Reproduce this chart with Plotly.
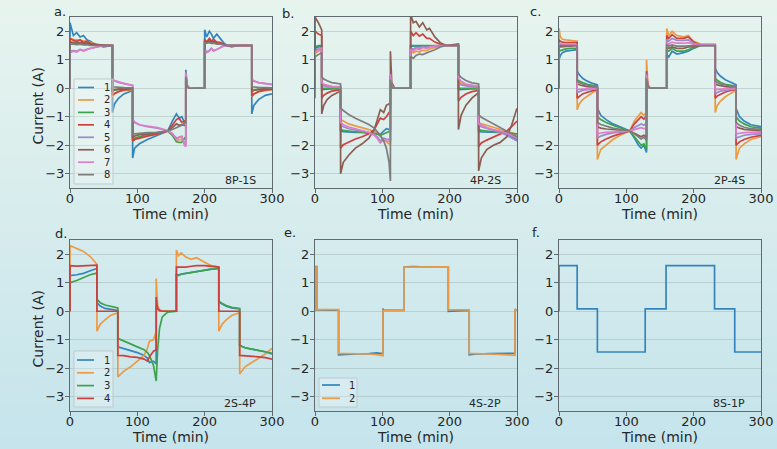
import plotly.graph_objects as go
from plotly.subplots import make_subplots

# ---------------- data ----------------
X_TICKS = [0, 100, 200, 300]
Y_TICKS = [-3, -2, -1, 0, 1, 2]
PANEL_LETTERS = ["a.", "b.", "c.", "d.", "e.", "f."]
PANEL_TAGS = ["8P-1S", "4P-2S", "2P-4S", "2S-4P", "4S-2P", "8S-1P"]
SERIES_NAMES = ["1", "2", "3", "4", "5", "6", "7", "8"]

# panel a (8P-1S): segment time lists
T_A = [[0, 0, 5, 10, 15, 20, 25, 30, 40, 50, 63],
       [63, 66, 72, 80, 93],
       [93, 96, 103, 115, 130, 145, 152, 158, 162, 166, 170, 172],
       [172, 174, 177, 185, 200],
       [200, 203, 207, 210, 213, 218, 223, 228, 233, 240, 250, 270],
       [270, 273, 280, 290, 300]]
A1 = [[0, 2.3, 1.85, 1.95, 1.8, 1.85, 1.7, 1.65, 1.5, 1.45, 1.5],
      [-0.85, -0.55, -0.35, -0.2, -0.08],
      [-2.45, -2.1, -1.95, -1.8, -1.65, -1.5, -1.15, -0.9, -1.05, -1.0, -1.2, -1.25],
      [0.65, 0.1, 0.02, 0, 0],
      [2.05, 1.8, 2.0, 1.9, 1.75, 1.9, 1.75, 1.6, 1.5, 1.45, 1.5, 1.5],
      [-0.9, -0.6, -0.4, -0.25, -0.2]]
A2 = [[0, 1.75, 1.72, 1.7, 1.68, 1.65, 1.65, 1.6, 1.55, 1.5, 1.5],
      [-0.3, -0.2, -0.12, -0.08, -0.05],
      [-1.85, -1.8, -1.72, -1.65, -1.6, -1.5, -1.6, -1.85, -1.8, -1.8, -1.9, -1.9],
      [0.35, 0.05, 0, 0, 0],
      [1.7, 1.65, 1.72, 1.65, 1.68, 1.62, 1.6, 1.55, 1.5, 1.5, 1.5, 1.5],
      [-0.3, -0.2, -0.12, -0.08, -0.05]]
A3 = [[0, 1.6, 1.6, 1.62, 1.6, 1.58, 1.57, 1.55, 1.52, 1.5, 1.5],
      [-0.1, -0.07, -0.04, -0.02, 0.0],
      [-1.8, -1.75, -1.7, -1.62, -1.57, -1.5, -1.65, -1.88, -1.9, -1.9, -1.75, -1.8],
      [0.3, 0.05, 0, 0, 0],
      [1.62, 1.6, 1.63, 1.6, 1.62, 1.58, 1.57, 1.55, 1.5, 1.5, 1.5, 1.5],
      [-0.1, -0.07, -0.04, -0.02, 0.0]]
A4 = [[0, 1.75, 1.68, 1.65, 1.7, 1.6, 1.65, 1.58, 1.52, 1.5, 1.5],
      [-0.25, -0.18, -0.12, -0.06, -0.03],
      [-1.85, -1.8, -1.75, -1.68, -1.6, -1.5, -1.3, -1.1, -1.05, -1.2, -1.15, -1.2],
      [0.45, 0.05, 0, 0, 0],
      [1.72, 1.6, 1.75, 1.65, 1.72, 1.62, 1.6, 1.55, 1.5, 1.5, 1.5, 1.5],
      [-0.28, -0.2, -0.12, -0.06, -0.04]]
A5 = [[0, 1.3, 1.32, 1.3, 1.36, 1.32, 1.37, 1.4, 1.46, 1.5, 1.5],
      [0.3, 0.26, 0.2, 0.16, 0.1],
      [-1.12, -1.2, -1.28, -1.35, -1.4, -1.5, -1.6, -1.75, -1.72, -1.7, -1.95, -2.0],
      [0.5, 0.08, 0.02, 0, 0],
      [1.35, 1.28, 1.32, 1.4, 1.32, 1.36, 1.42, 1.48, 1.5, 1.5, 1.5, 1.5],
      [0.3, 0.25, 0.2, 0.16, 0.13]]
A6 = [[0, 1.62, 1.6, 1.58, 1.6, 1.57, 1.58, 1.55, 1.52, 1.5, 1.5],
      [-0.08, -0.05, -0.03, -0.02, 0.0],
      [-1.7, -1.68, -1.63, -1.6, -1.55, -1.5, -1.38, -1.25, -1.3, -1.28, -1.3, -1.3],
      [0.4, 0.05, 0, 0, 0],
      [1.65, 1.6, 1.66, 1.6, 1.64, 1.58, 1.56, 1.52, 1.5, 1.5, 1.5, 1.5],
      [-0.1, -0.07, -0.04, -0.02, 0.0]]
A7 = [[0, 1.25, 1.3, 1.27, 1.35, 1.3, 1.35, 1.4, 1.45, 1.5, 1.5],
      [0.32, 0.27, 0.22, 0.17, 0.1],
      [-1.1, -1.18, -1.28, -1.33, -1.38, -1.48, -1.58, -1.8, -1.72, -1.68, -2.0, -2.05],
      [0.55, 0.08, 0.02, 0, 0],
      [1.35, 1.25, 1.3, 1.4, 1.3, 1.35, 1.42, 1.48, 1.5, 1.5, 1.5, 1.5],
      [0.32, 0.26, 0.2, 0.16, 0.14]]
A8 = [[0, 1.55, 1.55, 1.53, 1.55, 1.52, 1.53, 1.5, 1.5, 1.5, 1.5],
      [0.05, 0.04, 0.03, 0.02, 0.01],
      [-1.62, -1.6, -1.58, -1.56, -1.55, -1.5, -1.45, -1.38, -1.32, -1.3, -1.22, -1.2],
      [0.4, 0.05, 0, 0, 0],
      [1.6, 1.58, 1.6, 1.57, 1.58, 1.55, 1.55, 1.52, 1.5, 1.5, 1.5, 1.5],
      [0.05, 0.04, 0.03, 0.02, 0.01]]

# panel b (4P-2S)
T_B = [[0, 0, 5, 10],
       [10, 13, 18, 25, 38],
       [38, 42, 50, 60, 70, 80, 88, 92, 97, 102, 106, 110, 112],
       [112, 114, 118, 125, 142],
       [142, 146, 150, 155, 160, 166, 170, 178, 186, 195, 213],
       [213, 217, 224, 233, 243],
       [243, 247, 255, 265, 275, 285, 292, 300]]
B1 = [[0, 1.4, 1.45, 1.48],
      [-0.05, -0.04, -0.03, -0.02, -0.02],
      [-1.5, -1.52, -1.54, -1.55, -1.55, -1.56, -1.58, -1.6, -1.62, -1.5, -1.42, -1.45, -1.4],
      [0.2, 0.03, 0, 0, 0],
      [1.48, 1.48, 1.5, 1.5, 1.5, 1.5, 1.5, 1.5, 1.5, 1.5, 1.5],
      [-0.05, -0.04, -0.03, -0.02, -0.02],
      [-1.52, -1.53, -1.54, -1.55, -1.55, -1.6, -1.7, -1.8]]
B2 = [[0, 1.22, 1.3, 1.35],
      [0.15, 0.12, 0.1, 0.07, 0.05],
      [-1.1, -1.15, -1.25, -1.32, -1.38, -1.45, -1.52, -1.55, -1.7, -1.8, -1.9, -1.95, -1.95],
      [0.3, 0.05, 0, 0, 0],
      [1.28, 1.24, 1.3, 1.27, 1.33, 1.32, 1.38, 1.43, 1.48, 1.5, 1.5],
      [0.25, 0.18, 0.12, 0.08, 0.05],
      [-1.2, -1.25, -1.3, -1.37, -1.42, -1.5, -1.55, -1.62]]
B3 = [[0, 1.45, 1.5, 1.5],
      [0.0, 0.0, 0.0, 0.0, 0.0],
      [-1.45, -1.48, -1.5, -1.52, -1.53, -1.55, -1.58, -1.6, -1.65, -1.6, -1.55, -1.5, -1.5],
      [0.15, 0.02, 0, 0, 0],
      [1.5, 1.5, 1.5, 1.5, 1.5, 1.5, 1.5, 1.5, 1.5, 1.5, 1.5],
      [0.0, 0.0, 0.0, 0.0, 0.0],
      [-1.45, -1.48, -1.5, -1.52, -1.53, -1.55, -1.58, -1.6]]
B4 = [[0, 2.0, 1.9, 1.85],
      [-0.35, -0.25, -0.17, -0.1, -0.05],
      [-2.1, -1.98, -1.88, -1.78, -1.7, -1.6, -1.45, -1.25, -1.05, -1.1, -1.0, -0.85, -0.8],
      [0.45, 0.05, 0, 0, 0],
      [2.0, 1.85, 1.95, 1.83, 1.9, 1.75, 1.75, 1.62, 1.55, 1.5, 1.5],
      [-0.45, -0.32, -0.2, -0.12, -0.08],
      [-2.05, -1.92, -1.82, -1.72, -1.62, -1.5, -1.35, -1.15]]
B5 = [[0, 1.33, 1.38, 1.42],
      [0.1, 0.08, 0.06, 0.04, 0.03],
      [-1.3, -1.35, -1.42, -1.47, -1.5, -1.55, -1.62, -1.7, -1.85, -1.75, -1.78, -1.8, -1.8],
      [0.4, 0.05, 0, 0, 0],
      [1.42, 1.36, 1.44, 1.4, 1.45, 1.43, 1.46, 1.48, 1.5, 1.5, 1.5],
      [0.18, 0.12, 0.08, 0.05, 0.03],
      [-1.3, -1.35, -1.42, -1.48, -1.55, -1.65, -1.75, -1.85]]
B6 = [[0, 2.5, 2.3, 2.05],
      [-0.9, -0.6, -0.4, -0.25, -0.1],
      [-3.0, -2.6, -2.35, -2.1, -1.95, -1.75, -1.45, -1.15, -0.75, -0.85, -0.6, -0.55, -0.55],
      [1.3, 0.2, 0.02, 0, 0],
      [2.6, 2.3, 2.35, 2.15, 2.3, 2.05, 2.1, 1.8, 1.6, 1.5, 1.55],
      [-1.45, -0.95, -0.6, -0.35, -0.15],
      [-2.9, -2.45, -2.15, -2.0, -1.9, -1.7, -1.3, -0.7]]
B7 = [[0, 1.28, 1.35, 1.4],
      [0.2, 0.14, 0.1, 0.06, 0.04],
      [-1.2, -1.28, -1.36, -1.42, -1.48, -1.55, -1.65, -1.75, -1.92, -1.8, -1.85, -1.85, -1.85],
      [0.5, 0.08, 0.01, 0, 0],
      [1.35, 1.3, 1.4, 1.35, 1.43, 1.4, 1.45, 1.48, 1.5, 1.5, 1.5],
      [0.35, 0.25, 0.15, 0.1, 0.06],
      [-1.25, -1.3, -1.38, -1.45, -1.5, -1.58, -1.65, -1.75]]
B8 = [[-0.35, 1.1, 1.18, 1.25],
      [0.4, 0.32, 0.26, 0.2, 0.15],
      [-0.7, -0.78, -0.92, -1.05, -1.15, -1.27, -1.4, -1.5, -1.65, -1.85, -2.1, -2.6, -3.25],
      [0.3, 0.05, 0, 0, 0],
      [1.12, 1.05, 1.15, 1.2, 1.18, 1.25, 1.28, 1.35, 1.45, 1.5, 1.5],
      [0.5, 0.38, 0.27, 0.19, 0.15],
      [-0.92, -1.02, -1.12, -1.25, -1.37, -1.5, -1.6, -1.7]]

# panel c (2P-4S)
T_C = [[0, 0, 2, 5, 10, 18, 27],
       [27, 30, 35, 42, 50, 57],
       [57, 62, 70, 80, 95, 105, 112, 118, 122, 126, 130],
       [130, 132, 135, 145, 160],
       [160, 163, 168, 175, 185, 192, 200, 210, 232],
       [232, 235, 240, 247, 255, 263],
       [263, 268, 275, 285, 300]]
C1 = [[0, 1.0, 1.15, 1.25, 1.3, 1.33, 1.35],
      [0.6, 0.48, 0.35, 0.25, 0.17, 0.12],
      [-0.7, -0.95, -1.1, -1.25, -1.4, -1.5, -1.75, -2.0, -2.1, -2.0, -2.25],
      [0.4, 0.05, 0, 0, 0],
      [1.2, 1.1, 1.3, 1.2, 1.25, 1.3, 1.4, 1.5, 1.5],
      [0.7, 0.55, 0.42, 0.3, 0.2, 0.12],
      [-0.7, -1.0, -1.15, -1.28, -1.35]]
C2 = [[0, 2.1, 1.8, 1.72, 1.7, 1.68, 1.65],
      [-0.75, -0.55, -0.4, -0.28, -0.15, -0.07],
      [-2.5, -2.15, -2.0, -1.8, -1.6, -1.5, -1.15, -0.95, -0.85, -0.95, -0.85],
      [1.0, 0.15, 0.02, 0, 0],
      [2.1, 1.85, 2.0, 1.85, 1.8, 1.85, 1.65, 1.55, 1.55],
      [-0.85, -0.6, -0.45, -0.3, -0.18, -0.08],
      [-2.5, -2.1, -1.95, -1.8, -1.7]]
C3 = [[0, 1.3, 1.32, 1.35, 1.38, 1.4, 1.4],
      [0.3, 0.25, 0.2, 0.14, 0.1, 0.07],
      [-1.0, -1.1, -1.2, -1.3, -1.42, -1.5, -1.7, -1.9, -2.0, -1.95, -2.15],
      [0.3, 0.04, 0, 0, 0],
      [1.35, 1.3, 1.4, 1.3, 1.3, 1.35, 1.42, 1.5, 1.5],
      [0.35, 0.28, 0.2, 0.14, 0.1, 0.07],
      [-1.0, -1.15, -1.25, -1.35, -1.4]]
C4 = [[0, 1.7, 1.65, 1.62, 1.6, 1.6, 1.6],
      [-0.35, -0.28, -0.2, -0.14, -0.08, -0.04],
      [-2.0, -1.88, -1.78, -1.68, -1.57, -1.5, -1.25, -1.08, -1.0, -1.08, -0.98],
      [0.6, 0.08, 0.01, 0, 0],
      [1.85, 1.75, 1.88, 1.75, 1.75, 1.8, 1.62, 1.52, 1.52],
      [-0.35, -0.27, -0.2, -0.13, -0.08, -0.04],
      [-2.0, -1.88, -1.8, -1.72, -1.65]]
C5 = [[0, 1.55, 1.55, 1.52, 1.52, 1.5, 1.5],
      [-0.15, -0.12, -0.08, -0.05, -0.03, -0.01],
      [-1.75, -1.68, -1.62, -1.57, -1.53, -1.5, -1.38, -1.3, -1.25, -1.3, -1.22],
      [0.5, 0.06, 0, 0, 0],
      [1.7, 1.65, 1.75, 1.68, 1.68, 1.7, 1.58, 1.52, 1.52],
      [-0.2, -0.15, -0.1, -0.07, -0.04, -0.02],
      [-1.75, -1.7, -1.65, -1.62, -1.6]]
C6 = [[0, 1.45, 1.45, 1.45, 1.47, 1.48, 1.5],
      [0.15, 0.12, 0.09, 0.06, 0.04, 0.03],
      [-1.35, -1.4, -1.43, -1.45, -1.48, -1.5, -1.58, -1.65, -1.7, -1.65, -1.72],
      [0.35, 0.05, 0, 0, 0],
      [1.45, 1.4, 1.45, 1.4, 1.4, 1.45, 1.45, 1.5, 1.5],
      [0.15, 0.12, 0.09, 0.06, 0.04, 0.03],
      [-1.35, -1.4, -1.44, -1.47, -1.5]]
C7 = [[0, 1.58, 1.56, 1.54, 1.53, 1.52, 1.52],
      [-0.05, -0.04, -0.03, -0.02, -0.01, 0.0],
      [-1.6, -1.57, -1.55, -1.53, -1.51, -1.5, -1.45, -1.4, -1.38, -1.42, -1.38],
      [0.45, 0.05, 0, 0, 0],
      [1.62, 1.55, 1.62, 1.58, 1.58, 1.6, 1.55, 1.52, 1.52],
      [-0.05, -0.04, -0.03, -0.02, -0.01, 0.0],
      [-1.6, -1.58, -1.56, -1.55, -1.55]]
C8 = [[0, 1.5, 1.5, 1.5, 1.5, 1.5, 1.5],
      [0.25, 0.2, 0.15, 0.1, 0.07, 0.05],
      [-1.2, -1.27, -1.33, -1.4, -1.46, -1.5, -1.6, -1.72, -1.78, -1.72, -1.82],
      [0.35, 0.05, 0, 0, 0],
      [1.52, 1.48, 1.52, 1.48, 1.48, 1.5, 1.5, 1.5, 1.5],
      [0.25, 0.2, 0.15, 0.1, 0.07, 0.05],
      [-1.2, -1.3, -1.37, -1.42, -1.45]]

# panel d (2S-4P)
T_D = [[0, 0, 10, 20, 30, 38, 40],
       [40, 45, 52, 60, 71],
       [71, 80, 90, 100, 110, 115, 118, 124, 128],
       [128, 130, 133, 137, 145, 158],
       [158, 161, 165, 172, 180, 188, 200, 210, 221],
       [221, 226, 232, 240, 252],
       [252, 260, 270, 280, 290, 300]]
D1 = [[0, 1.25, 1.28, 1.33, 1.42, 1.47, 1.5],
      [0.3, 0.18, 0.1, 0.06, 0.03],
      [-1.25, -1.3, -1.38, -1.45, -1.55, -1.65, -1.8, -1.75, -1.85],
      [0.2, 0.08, 0.03, 0.01, 0, 0],
      [1.3, 1.27, 1.3, 1.33, 1.35, 1.38, 1.43, 1.48, 1.5],
      [0.33, 0.25, 0.18, 0.12, 0.08],
      [-1.2, -1.28, -1.33, -1.37, -1.42, -1.5]]
D2 = [[0, 2.3, 2.2, 2.1, 1.92, 1.72, 1.65],
      [-0.7, -0.45, -0.3, -0.15, -0.05],
      [-2.3, -2.1, -1.95, -1.75, -1.55, -1.3, -1.05, -1.0, -0.7],
      [1.15, 0.2, 0.05, 0.01, 0, 0],
      [2.15, 1.95, 2.05, 1.9, 1.82, 1.88, 1.72, 1.6, 1.55],
      [-0.7, -0.45, -0.3, -0.15, -0.05],
      [-2.2, -1.95, -1.8, -1.65, -1.5, -1.3]]
D3 = [[0, 1.0, 1.08, 1.18, 1.28, 1.33, 1.35],
      [0.42, 0.3, 0.22, 0.17, 0.12],
      [-0.95, -1.05, -1.15, -1.25, -1.35, -1.45, -1.55, -1.9, -2.45],
      [-2.45, -1.4, -0.6, -0.2, -0.03, 0],
      [1.3, 1.25, 1.3, 1.33, 1.35, 1.38, 1.43, 1.48, 1.5],
      [0.35, 0.27, 0.2, 0.14, 0.1],
      [-1.2, -1.28, -1.33, -1.37, -1.42, -1.48]]
D4 = [[0, 1.6, 1.58, 1.6, 1.62, 1.62, 1.62],
      [0.0, 0.0, 0.0, 0.0, 0.0],
      [-1.55, -1.56, -1.6, -1.62, -1.68, -1.75, -1.6, -1.4, -1.35],
      [0.5, 0.1, 0.02, 0, 0, 0],
      [1.55, 1.55, 1.57, 1.55, 1.58, 1.6, 1.6, 1.57, 1.55],
      [0.0, 0.0, 0.0, 0.0, 0.0],
      [-1.55, -1.56, -1.57, -1.6, -1.63, -1.68]]

# panel e (4S-2P)
T_E = [[0, 0, 3],
       [3, 20, 35],
       [35, 40, 60, 80, 92, 97, 101],
       [101, 102, 115, 132],
       [132, 145, 170, 198],
       [198, 210, 229],
       [229, 240, 260, 280, 290, 297],
       [297, 298, 300]]
E1 = [[0, 1.57, 1.57],
      [0.05, 0.04, 0.04],
      [-1.53, -1.52, -1.5, -1.49, -1.46, -1.48, -1.47],
      [0.1, 0.03, 0.03, 0.03],
      [1.55, 1.57, 1.55, 1.55],
      [0.0, 0.02, 0.03],
      [-1.53, -1.5, -1.49, -1.47, -1.46, -1.47],
      [0.08, 0.05, 0.05]]
E2 = [[0, 1.55, 1.55],
      [0.06, 0.06, 0.06],
      [-1.48, -1.48, -1.48, -1.5, -1.52, -1.55, -1.56],
      [0.03, 0.03, 0.03, 0.03],
      [1.55, 1.55, 1.55, 1.56],
      [0.06, 0.05, 0.05],
      [-1.48, -1.48, -1.5, -1.52, -1.55, -1.55],
      [0.05, 0.05, 0.05]]

# panel f (8S-1P)
T_F = [[0, 0, 27], [27, 57], [57, 128], [128, 159], [159, 231], [231, 261], [261, 300]]
F1 = [[0, 1.6, 1.6], [0.08, 0.08], [-1.43, -1.43], [0.08, 0.08], [1.6, 1.6], [0.08, 0.08], [-1.43, -1.43]]

# ---------------- styling ----------------
COLORS = ["#3585bd", "#eb9a45", "#3da34a", "#cc4040", "#9c88cc", "#8c5d52", "#de7cc8", "#7d7d7d"]
FONT = "DejaVu Sans"
W, H = 777, 449


def flat(parts):
    out = []
    for p in parts:
        out.extend(p)
    return out


PANELS = [
    (T_A, [A1, A2, A3, A4, A5, A6, A7, A8]),
    (T_B, [B1, B2, B3, B4, B5, B6, B7, B8]),
    (T_C, [C1, C2, C3, C4, C5, C6, C7, C8]),
    (T_D, [D1, D2, D3, D4]),
    (T_E, [E1, E2]),
    (T_F, [F1]),
]

# plot-area pixel boxes (left, right, top, bottom)
BOXES = [(70, 272, 17, 188), (315, 517, 17, 188), (559, 761, 17, 188),
         (70, 272, 240, 411), (315, 517, 240, 411), (559, 761, 240, 411)]

fig = make_subplots(rows=2, cols=3)

for i, (tparts, series) in enumerate(PANELS):
    r, c = i // 3 + 1, i % 3 + 1
    t = flat(tparts)
    for k, s in enumerate(series):
        y = flat(s)
        fig.add_trace(go.Scatter(x=t, y=y, mode="lines", name=SERIES_NAMES[k],
                                 line=dict(color=COLORS[k], width=1.7),
                                 showlegend=False, hoverinfo="skip"), row=r, col=c)

axis_common = dict(showline=True, mirror=True, linecolor="#5f6b6e", linewidth=1.2,
                   ticks="outside", ticklen=4, tickcolor="#5f6b6e",
                   tickfont=dict(family=FONT, size=13, color="#262626"),
                   zeroline=False, automargin=False)

for i, (l, rgt, tp, bt) in enumerate(BOXES):
    idx = "" if i == 0 else str(i + 1)
    xa = "xaxis" + idx
    ya = "yaxis" + idx
    fig.layout[xa].update(domain=[l / W, rgt / W], range=[0, 300], tickvals=X_TICKS,
                          showgrid=False, ticklabelstandoff=-6,
                          title=dict(text="Time (min)", font=dict(family=FONT, size=14, color="#262626"),
                                     standoff=2),
                          **axis_common)
    fig.layout[ya].update(domain=[1 - bt / H, 1 - tp / H], range=[-3.5, 2.5], tickvals=Y_TICKS,
                          ticktext=[("\u2212" + str(-v)) if v < 0 else str(v) for v in Y_TICKS],
                          showgrid=True, gridcolor="rgba(160,175,178,0.45)", gridwidth=1,
                          ticklabelstandoff=-2,
                          **axis_common)

shapes = []
annotations = []

# background vertical gradient
NB = 60
top_c = (231, 244, 238)
bot_c = (197, 228, 236)
for b in range(NB):
    f = b / (NB - 1)
    col = tuple(int(round(top_c[j] + (bot_c[j] - top_c[j]) * f)) for j in range(3))
    shapes.append(dict(type="rect", xref="paper", yref="paper", x0=0, x1=1,
                       y0=1 - (b + 1) / NB - 0.002, y1=1 - b / NB,
                       fillcolor="rgb(%d,%d,%d)" % col, line=dict(width=0), layer="below"))


def px(x, y):
    return x / W, 1 - y / H


# y-axis titles (left column only)
for (l, rgt, tp, bt) in (BOXES[0], BOXES[3]):
    xx, yy = px(37, (tp + bt) / 2 + 3)
    annotations.append(dict(x=xx, y=yy, xref="paper", yref="paper", text="Current (A)",
                            textangle=-90, showarrow=False,
                            font=dict(family=FONT, size=14, color="#262626"),
                            xanchor="center", yanchor="middle"))

# panel letters
LETTER_POS = [(60, 12), (288, 13), (535, 11), (61, 233), (290, 232), (536, 232)]
for (x, y), txt in zip(LETTER_POS, PANEL_LETTERS):
    xx, yy = px(x, y)
    annotations.append(dict(x=xx, y=yy, xref="paper", yref="paper", text=txt, showarrow=False,
                            font=dict(family=FONT, size=13, color="#262626"),
                            xanchor="center", yanchor="middle"))

# panel tags (bottom-right inside)
for i, (l, rgt, tp, bt) in enumerate(BOXES):
    xx, yy = px(rgt - 14, bt - 8)
    annotations.append(dict(x=xx, y=yy, xref="paper", yref="paper", text=PANEL_TAGS[i],
                            showarrow=False, font=dict(family=FONT, size=11, color="#262626"),
                            xanchor="right", yanchor="middle"))


# manual legends
def legend(box, n, first_y, step, lx0, lx1, tx):
    x0, y0, x1, y1 = box
    a, b = px(x0, y0)
    c, d = px(x1, y1)
    shapes.append(dict(type="rect", xref="paper", yref="paper", x0=a, x1=c, y0=d, y1=b,
                       fillcolor="rgba(255,255,255,0.25)", line=dict(color="rgba(190,200,200,0.9)", width=1)))
    for k in range(n):
        yy = first_y + k * step
        p0 = px(lx0, yy)
        p1 = px(lx1, yy)
        shapes.append(dict(type="line", xref="paper", yref="paper", x0=p0[0], x1=p1[0], y0=p0[1], y1=p1[1],
                           line=dict(color=COLORS[k], width=1.7)))
        q = px(tx, yy)
        annotations.append(dict(x=q[0], y=q[1], xref="paper", yref="paper", text=SERIES_NAMES[k],
                                showarrow=False, font=dict(family=FONT, size=10, color="#262626"),
                                xanchor="left", yanchor="middle"))


legend((74, 79, 113, 184), 8, 87.5, 12.45, 78, 94, 102)
legend((74, 351, 113, 407), 4, 360, 12.8, 77, 94, 102)
legend((319, 378, 357, 407), 2, 385, 13.3, 322, 340, 347)

fig.update_layout(width=W, height=H, margin=dict(l=0, r=0, t=0, b=0),
                  paper_bgcolor="rgb(214,236,237)", plot_bgcolor="rgba(0,0,0,0)",
                  shapes=shapes, annotations=annotations, showlegend=False,
                  font=dict(family=FONT))

fig.write_html("out.html", config={"displayModeBar": False},
               post_script="document.body.style.margin='0';document.body.style.padding='0';"
                           "document.body.style.overflow='hidden';")
